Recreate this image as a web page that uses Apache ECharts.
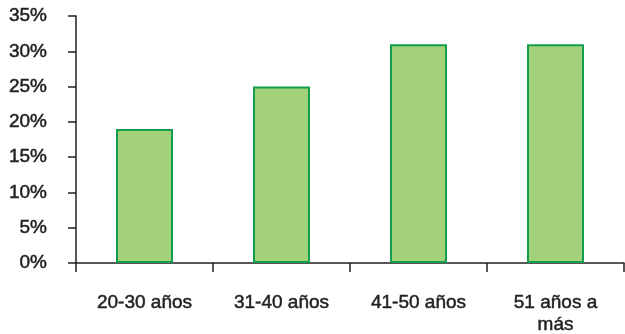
<!DOCTYPE html>
<html>
<head>
<meta charset="utf-8">
<script src="https://cdn.jsdelivr.net/npm/echarts@6/dist/echarts.min.js"></script>
<style>
  html, body { margin: 0; padding: 0; background: #fff; }
  #chart { width: 625px; height: 334px; }
</style>
</head>
<body>
<div id="chart"></div>
<script>
// grupos de edad
const categories = ["20-30 años", "31-40 años", "41-50 años", "51 años a\nmás"]
// porcentaje por grupo
const values = [19, 25, 31, 31]
const yMin = 0
const yMax = 35
const yStep = 5

const axisColor = "#231f20"
const textStyle = {
  color: "#231f20",
  fontFamily: "Liberation Sans, Arial, sans-serif",
  fontSize: 19,
  textBorderColor: "#231f20",
  textBorderWidth: 0.5
}

const chart = echarts.init(document.getElementById("chart"))
chart.setOption({
  animation: false,
  grid: {
    left: 76,
    right: 1,
    top: 16,
    bottom: 71,
    containLabel: false,
    outerBoundsMode: "none"
  },
  xAxis: {
    type: "category",
    data: categories,
    boundaryGap: true,
    axisLine: { show: true, lineStyle: { color: axisColor, width: 1.5 } },
    axisTick: { show: true, alignWithLabel: false, length: 9, lineStyle: { color: axisColor, width: 1.5 } },
    axisLabel: Object.assign({ interval: 0, margin: 29, lineHeight: 22 }, textStyle),
    splitLine: { show: false }
  },
  yAxis: {
    type: "value",
    min: yMin,
    max: yMax,
    interval: yStep,
    axisLine: { show: true, lineStyle: { color: axisColor, width: 1.5 } },
    axisTick: { show: true, length: 8, lineStyle: { color: axisColor, width: 1.5 } },
    axisLabel: Object.assign({ margin: 29, formatter: "{value}%" }, textStyle),
    splitLine: { show: false }
  },
  series: [
    {
      type: "bar",
      data: values,
      barWidth: 57,
      itemStyle: {
        color: "#a3d17a",
        borderColor: "#129e4e",
        borderWidth: 2
      }
    }
  ]
})
</script>
</body>
</html>
